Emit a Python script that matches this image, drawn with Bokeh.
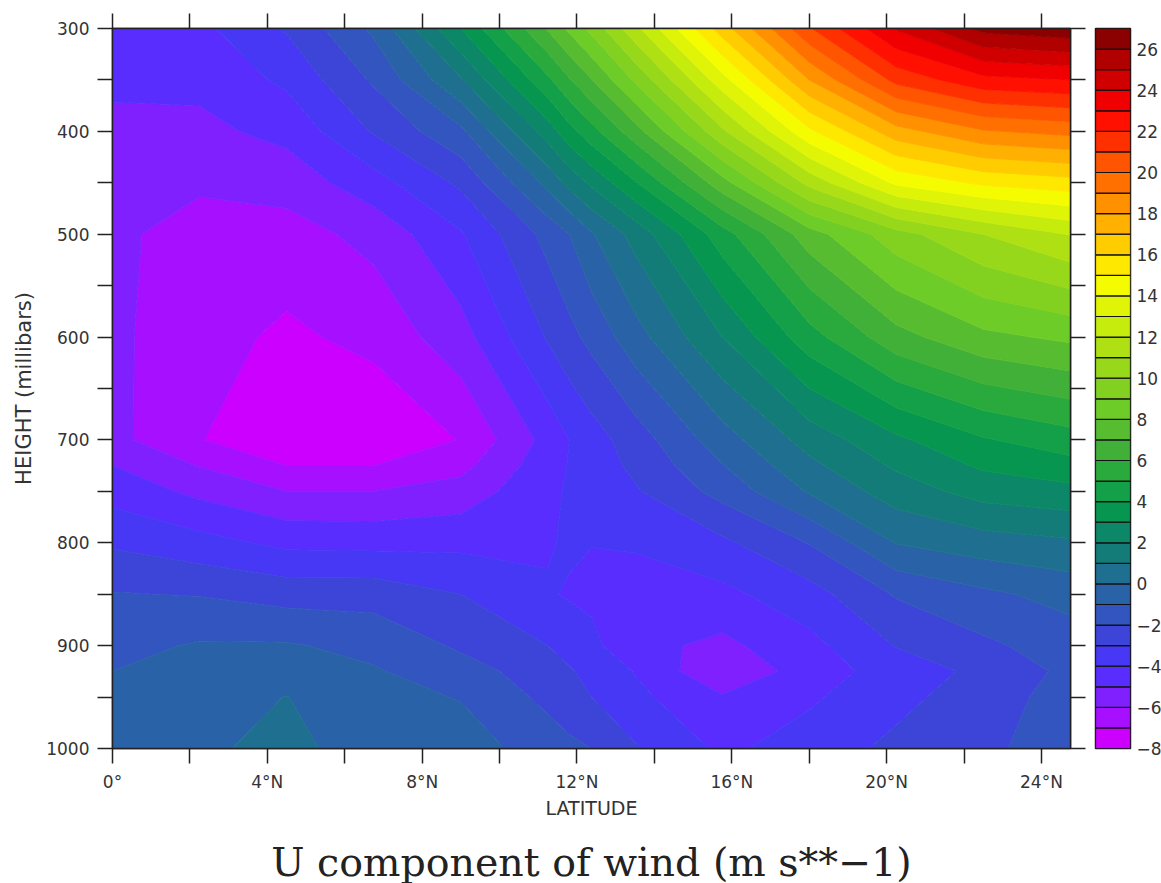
from bokeh.plotting import figure
from bokeh.layouts import row
from bokeh.models import Range1d, LinearAxis, FixedTicker, Title, CustomLabelingPolicy
from bokeh.embed import file_html
from bokeh.resources import INLINE

lats = [0, 2.25, 4.5, 6.75, 9, 11.25, 11.8, 12.375, 13.5, 15.75, 18, 20.25, 22.5, 24.75]
pressures = [300, 350, 400, 450, 500, 600, 700, 725, 750, 800, 850, 900, 925, 950, 1000]
u300 = [-4.5, -4.25, -2.9, -0.8, 3.0, 7.1, 8.2, 9.3, 11.7, 16.5, 20.9, 24.1, 26.3, 26.7]
u350 = [-4.85, -4.75, -3.8, -1.85, 0.9, 4.8, 5.9, 6.95, 9.15, 13.6, 18.0, 21.3, 22.7, 23.0]
u400 = [-5.2, -5.25, -4.7, -2.9, -1.2, 2.5, 3.65, 4.65, 6.6, 10.8, 14.8, 17.6, 18.9, 19.3]
u450 = [-5.5, -5.85, -5.6, -4.4, -2.8, 0.3, 1.3, 2.2, 3.9, 7.6, 11.3, 14.2, 15.2, 15.6]
u500 = [-5.8, -6.4, -6.4, -5.7, -4.1, -1.65, -1.0, -0.1, 1.35, 4.55, 7.55, 9.6, 11.0, 12.05]
u600 = [-5.8, -6.6, -7.2, -6.7, -5.4, -2.9, -2.3, -1.7, -0.4, 2.0, 4.6, 6.65, 7.75, 8.2]
u700 = [-5.7, -6.95, -7.9, -7.9, -6.95, -4.65, -4.0, -3.45, -2.5, -0.45, 1.4, 2.8, 3.9, 4.55]
u725 = [-5.0, -6.05, -7.0, -7.0, -6.3, -4.4, -3.95, -3.5, -2.8, -1.05, 0.75, 2.15, 3.15, 3.65]
u750 = [-4.4, -5.25, -6.0, -6.0, -5.6, -4.2, -3.9, -3.6, -3.1, -1.65, 0.1, 1.5, 2.4, 2.7]
u800 = [-3.15, -3.65, -4.25, -4.3, -4.25, -4.1, -3.85, -3.98, -3.9, -3.2, -1.95, 0.05, 0.55, 0.85]
u850 = [-1.95, -2.05, -2.4, -2.4, -3.0, -3.9, -4.1, -4.2, -4.4, -4.25, -3.4, -1.9, -1.2, -0.65]
u900 = [-1.3, -0.9, -0.9, -1.3, -2.15, -3.0, -3.35, -3.75, -4.7, -5.25, -4.3, -2.95, -2.2, -1.5]
u925 = [-1.0, -0.65, -0.45, -0.9, -1.6, -2.5, -2.9, -3.3, -4.05, -5.9, -4.5, -3.55, -2.75, -1.75]
u950 = [-0.8, -0.4, 0.02, -0.7, -1.05, -2.25, -2.65, -3.0, -3.75, -4.9, -4.15, -3.3, -2.45, -1.6]
u1000 = [-0.4, -0.15, 0.25, -0.43, -0.5, -1.5, -1.75, -2.0, -2.9, -4.2, -3.55, -2.75, -2.2, -1.5]
wind = [u300, u350, u400, u450, u500, u600, u700, u725, u750, u800, u850, u900, u925, u950, u1000]

levels = [-8, -7, -6, -5, -4, -3, -2, -1, 0, 1, 2, 3, 4, 5, 6, 7, 8, 9, 10, 11, 12, 13, 14, 15, 16, 17,
          18, 19, 20, 21, 22, 23, 24, 25, 26, 27]
colors = ["#CC00FF", "#A60FFF", "#8020FF", "#5A2DFF", "#4638F5", "#3D45D8", "#3355C0", "#2A62A8",
          "#1F7090", "#147C78", "#0C8868", "#069650", "#14A048", "#2AAA3C", "#40B038", "#58BC30",
          "#6ECC28", "#82D020", "#98D81A", "#AEE014", "#C5EC0C", "#E0F408", "#F5FC00", "#FFE800",
          "#FFCC00", "#FFB000", "#FF9000", "#FF7000", "#FF5500", "#FF3000", "#FF1000", "#F00000",
          "#D00000", "#B00000", "#8B0000"]

x_major = [0, 4, 8, 12, 16, 20, 24]
x_minor = [2, 6, 10, 14, 18, 22]
x_labels = {0: "0°", 4: "4°N", 8: "8°N", 12: "12°N", 16: "16°N", 20: "20°N", 24: "24°N"}
y_major = [300, 400, 500, 600, 700, 800, 900, 1000]
y_minor = [350, 450, 550, 650, 750, 850, 950]
cb_ticks = [-8, -6, -4, -2, 0, 2, 4, 6, 8, 10, 12, 14, 16, 18, 20, 22, 24, 26]
cb_labels = {t: (f"\u2212{-t}" if t < 0 else str(t)) for t in cb_ticks}

INK = "#222222"
TXT = "#333333"
FONT = "DejaVu Sans"

p = figure(frame_width=958, frame_height=720, x_range=Range1d(0, 24.75), y_range=Range1d(1000, 300),
           toolbar_location=None, output_backend="svg", min_border_left=112, min_border_right=16,
           min_border_top=28, min_border_bottom=60, background_fill_color="white")
p.grid.visible = False
p.outline_line_color = INK
p.outline_line_width = 1.5

p.contour(lats, pressures, wind, levels, fill_color=colors, line_color=colors + [colors[-1]], line_width=1)

no_labels = CustomLabelingPolicy(code="for (const i of Array.from(indices)) { indices.unset(i) }; return indices")

ax_b = p.xaxis[0]
ax_l = p.yaxis[0]
ax_b.ticker = FixedTicker(ticks=x_major, minor_ticks=x_minor)
ax_l.ticker = FixedTicker(ticks=y_major, minor_ticks=y_minor)
ax_b.major_label_overrides = x_labels
ax_b.axis_label = "LATITUDE"
ax_l.axis_label = "HEIGHT (millibars)"
ax_t = LinearAxis(ticker=FixedTicker(ticks=x_major, minor_ticks=x_minor), major_label_text_font_size="1px",
                  major_label_standoff=0, major_label_policy=no_labels)
ax_r = LinearAxis(ticker=FixedTicker(ticks=y_major, minor_ticks=y_minor), major_label_text_font_size="1px",
                  major_label_standoff=0, major_label_policy=no_labels)
p.add_layout(ax_t, "above")
p.add_layout(ax_r, "right")
for a in (ax_b, ax_l, ax_t, ax_r):
    a.major_tick_in = 0
    a.minor_tick_in = 0
    a.major_tick_out = 15
    a.minor_tick_out = 15
    a.major_tick_line_color = INK
    a.minor_tick_line_color = INK
    a.major_tick_line_width = 1.5
    a.minor_tick_line_width = 1.5
    a.axis_line_color = INK
    a.axis_line_width = 1.5
for a in (ax_b, ax_l):
    a.major_label_text_font = FONT
    a.major_label_text_font_size = "17px"
    a.major_label_text_color = TXT
    a.axis_label_text_font = FONT
    a.axis_label_text_font_style = "normal"
    a.axis_label_text_color = TXT
ax_b.axis_label_text_font_size = "19px"
ax_l.axis_label_text_font_size = "21px"
ax_b.major_label_standoff = 8
ax_b.axis_label_standoff = 2
ax_l.major_label_standoff = 8
ax_l.axis_label_standoff = 7
ax_l.major_label_orientation = "horizontal"

title = Title(text="U component of wind (m s**\u22121)", align="center", text_font="DejaVu Serif",
              text_font_size="39.5px", text_font_style="normal", text_color="#222222", standoff=31)
p.add_layout(title, "below")

cb = figure(frame_width=35, frame_height=720, x_range=Range1d(0, 1), y_range=Range1d(-8, 27),
            toolbar_location=None, output_backend="svg", y_axis_location="right",
            min_border_left=5, min_border_right=32, min_border_top=28, min_border_bottom=60)
cb.grid.visible = False
cb.xaxis.visible = False
cb.outline_line_color = INK
cb.outline_line_width = 1.5
cb.quad(left=0, right=1, bottom=levels[:-1], top=levels[1:], fill_color=colors, line_color="#111111", line_width=1.2)
ax_c = cb.yaxis[0]
ax_c.ticker = FixedTicker(ticks=cb_ticks)
ax_c.major_label_overrides = cb_labels
ax_c.major_tick_out = 0
ax_c.major_tick_in = 0
ax_c.minor_tick_out = 0
ax_c.minor_tick_in = 0
ax_c.axis_line_color = None
ax_c.major_label_standoff = 6
ax_c.major_label_text_font = FONT
ax_c.major_label_text_font_size = "17px"
ax_c.major_label_text_color = TXT
ax_c.major_label_orientation = "horizontal"

layout = row(p, cb, spacing=0)
open("out.html", "w").write(file_html(layout, INLINE))
